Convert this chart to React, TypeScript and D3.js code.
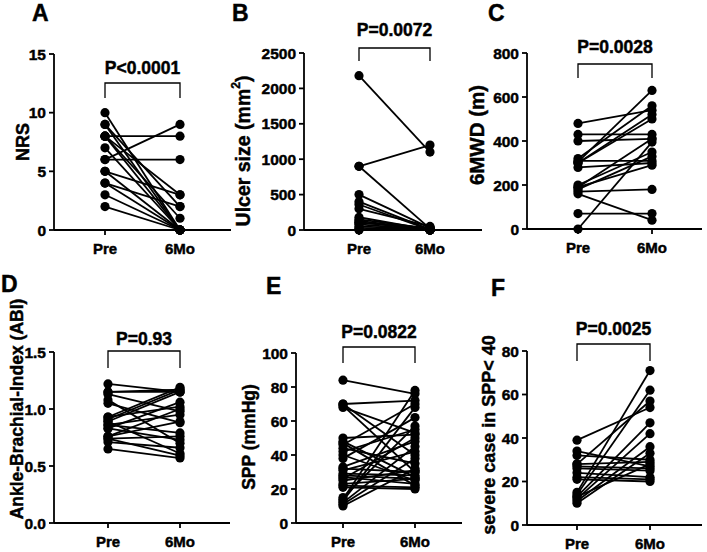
import React from "react";
import * as d3 from "d3";

const groups = ["Pre", "6Mo"];

const nrsPre = [10, 9, 9, 8, 8, 8, 8, 7, 6, 6, 5, 5, 4, 4, 3, 2];
const nrsPost = [0, 2, 0, 8, 1, 0, 3, 0, 9, 6, 3, 0, 2, 0, 0, 0];
const nrsTicks = [0, 5, 10, 15];

const ulcerPre = [2180, 900, 900, 500, 400, 360, 300, 180, 150, 130, 110, 100, 80, 50, 30, 10, 0];
const ulcerPost = [1100, 1200, 20, 30, 10, 0, 50, 0, 20, 10, 0, 30, 0, 10, 0, 0, 0];
const ulcerTicks = [0, 500, 1000, 1500, 2000, 2500];

const mwdPre = [480, 430, 400, 320, 310, 305, 300, 300, 280, 200, 190, 180, 170, 160, 190, 70, 0];
const mwdPost = [540, 430, 410, 560, 310, 630, 520, 500, 300, 350, 290, 330, 180, 40, 410, 70, 395];
const mwdTicks = [0, 200, 400, 600, 800];

const abiPre = [1.22, 1.15, 1.13, 1.15, 1.08, 1.05, 0.93, 0.91, 0.89, 0.93, 0.86, 0.89, 0.83, 0.86, 0.76, 0.74, 0.76, 0.71, 0.65, 0.74, 0.83];
const abiPost = [1.15, 1.17, 0.98, 1.15, 0.7, 0.88, 1.19, 1.17, 1.15, 1.02, 0.95, 0.61, 1.06, 0.79, 0.89, 0.76, 1.0, 0.66, 0.57, 0.59, 0.73];
const abiTicks = [0, 0.5, 1.0, 1.5];

const sppPre = [84, 70, 69, 68, 70, 50, 48, 46, 44, 42, 40, 38, 33, 31, 29, 27, 26, 25, 23, 22, 21, 15, 13, 12, 11, 10, 14, 28, 32, 47];
const sppPost = [76, 72, 30, 53, 40, 52, 27, 70, 35, 55, 25, 62, 48, 42, 28, 23, 50, 31, 26, 21, 20, 57, 68, 45, 38, 32, 78, 26, 30, 22];
const sppTicks = [0, 20, 40, 60, 80, 100];

const sevPre = [39, 34, 32, 28, 27, 26, 24, 22, 21, 15, 14, 13, 12, 11, 10, 13, 28];
const sevPost = [54, 27, 30, 29, 26, 25, 22, 21, 20, 71, 62, 47, 42, 36, 33, 28, 57];
const sevTicks = [0, 20, 40, 60, 80];

const FONT = "'Liberation Sans', Arial, sans-serif";
const HEAVY = { stroke: "#000", strokeWidth: 0.45, paintOrder: "stroke" } as const;

type PanelProps = {
  letter: string;
  letterX: number;
  letterY: number;
  ylabel: React.ReactNode;
  ylabelX: number;
  ylabelY: number;
  ylabelSize: number;
  axisX: number;
  yTop: number;
  yBot: number;
  xPre: number;
  xPost: number;
  xEnd: number;
  max: number;
  ticks: number[];
  fmt: (v: number) => string;
  pre: number[];
  post: number[];
  pText: string;
  pY: number;
  bTop: number;
  bBot: number;
};

function Panel(p: PanelProps) {
  const y = d3.scaleLinear().domain([0, p.max]).range([p.yBot, p.yTop]);
  const x = d3.scalePoint<string>().domain(groups).range([p.xPre, p.xPost]);
  const line = d3.line<[string, number]>().x((d) => x(d[0]) as number).y((d) => y(d[1]));
  const pairs = p.pre.map((v, i) => [[groups[0], v], [groups[1], p.post[i]]] as [string, number][]);
  return (
    <g fontFamily={FONT} fontWeight="bold">
      <text x={p.letterX} y={p.letterY} fontSize={23} {...HEAVY}>{p.letter}</text>
      <text
        transform={`translate(${p.ylabelX},${p.ylabelY}) rotate(-90)`}
        textAnchor="middle"
        dominantBaseline="central"
        fontSize={p.ylabelSize}
        {...HEAVY}
      >
        {p.ylabel}
      </text>
      <line x1={p.axisX} x2={p.axisX} y1={p.yTop} y2={p.yBot} stroke="#000" strokeWidth={1.8} />
      <line x1={p.axisX} x2={p.xEnd} y1={p.yBot} y2={p.yBot} stroke="#000" strokeWidth={1.8} />
      {p.ticks.map((t) => (
        <g key={t}>
          <line x1={p.axisX - 5} x2={p.axisX} y1={y(t)} y2={y(t)} stroke="#000" strokeWidth={1.8} />
          <text x={p.axisX - 8} y={y(t)} textAnchor="end" dominantBaseline="central" fontSize={15.5} {...HEAVY}>
            {p.fmt(t)}
          </text>
        </g>
      ))}
      {groups.map((g) => (
        <g key={g}>
          <line x1={x(g)} x2={x(g)} y1={p.yBot} y2={p.yBot + 5} stroke="#000" strokeWidth={1.8} />
          <text x={x(g)} y={p.yBot + 24} textAnchor="middle" fontSize={15} {...HEAVY}>
            {g}
          </text>
        </g>
      ))}
      {pairs.map((d, i) => (
        <path key={i} d={line(d) as string} fill="none" stroke="#000" strokeWidth={1.8} />
      ))}
      {pairs.map((d, i) =>
        d.map((pt, j) => <circle key={`${i}-${j}`} cx={x(pt[0])} cy={y(pt[1])} r={4.6} fill="#000" />)
      )}
      <path
        d={`M${p.xPre},${p.bBot}V${p.bTop}H${p.xPost}V${p.bBot}`}
        fill="none"
        stroke="#000"
        strokeWidth={1.3}
      />
      <text x={(p.xPre + p.xPost) / 2} y={p.pY} textAnchor="middle" fontSize={17.5} {...HEAVY}>
        {p.pText}
      </text>
    </g>
  );
}

const f0 = d3.format("d");
const f1 = d3.format(".1f");

export default function App() {
  return (
    <svg width={707} height={552} style={{ position: "absolute", left: 0, top: 0, background: "#fff" }}>
      <rect width={707} height={552} fill="#fff" />
      <Panel letter="A" letterX={32} letterY={21} ylabel="NRS" ylabelX={23} ylabelY={142} ylabelSize={18}
        axisX={54} yTop={54} yBot={230} xPre={105} xPost={180} xEnd={231}
        max={15} ticks={nrsTicks} fmt={f0} pre={nrsPre} post={nrsPost}
        pText="P<0.0001" pY={74} bTop={83} bBot={98} />
      <Panel letter="B" letterX={232} letterY={21}
        ylabel={<>Ulcer size (mm<tspan dy={-7} fontSize={12}>2</tspan><tspan dy={7}>)</tspan></>}
        ylabelX={243} ylabelY={151} ylabelSize={19.5}
        axisX={304} yTop={53} yBot={230} xPre={359} xPost={430} xEnd={482}
        max={2500} ticks={ulcerTicks} fmt={f0} pre={ulcerPre} post={ulcerPost}
        pText="P=0.0072" pY={36} bTop={48} bBot={61} />
      <Panel letter="C" letterX={488} letterY={21} ylabel="6MWD (m)" ylabelX={476} ylabelY={135} ylabelSize={20.5}
        axisX={527} yTop={53} yBot={229} xPre={578} xPost={652} xEnd={702}
        max={800} ticks={mwdTicks} fmt={f0} pre={mwdPre} post={mwdPost}
        pText="P=0.0028" pY={53} bTop={64} bBot={78} />
      <Panel letter="D" letterX={1} letterY={292} ylabel="Ankle-Brachial-Index (ABI)" ylabelX={17} ylabelY={409} ylabelSize={17.5}
        axisX={54} yTop={352} yBot={523} xPre={108} xPost={180} xEnd={230}
        max={1.5} ticks={abiTicks} fmt={f1} pre={abiPre} post={abiPost}
        pText="P=0.93" pY={345} bTop={351} bBot={368} />
      <Panel letter="E" letterX={266} letterY={294} ylabel="SPP (mmHg)" ylabelX={249} ylabelY={437} ylabelSize={17.5}
        axisX={296} yTop={353} yBot={523} xPre={343} xPost={415} xEnd={462}
        max={100} ticks={sppTicks} fmt={f0} pre={sppPre} post={sppPost}
        pText="P=0.0822" pY={338} bTop={347} bBot={363} />
      <Panel letter="F" letterX={491} letterY={296} ylabel="severe case in SPP< 40" ylabelX={489} ylabelY={435} ylabelSize={18}
        axisX={527} yTop={351} yBot={525} xPre={577} xPost={650} xEnd={702}
        max={80} ticks={sevTicks} fmt={f0} pre={sevPre} post={sevPost}
        pText="P=0.0025" pY={335} bTop={344} bBot={361} />
    </svg>
  );
}
